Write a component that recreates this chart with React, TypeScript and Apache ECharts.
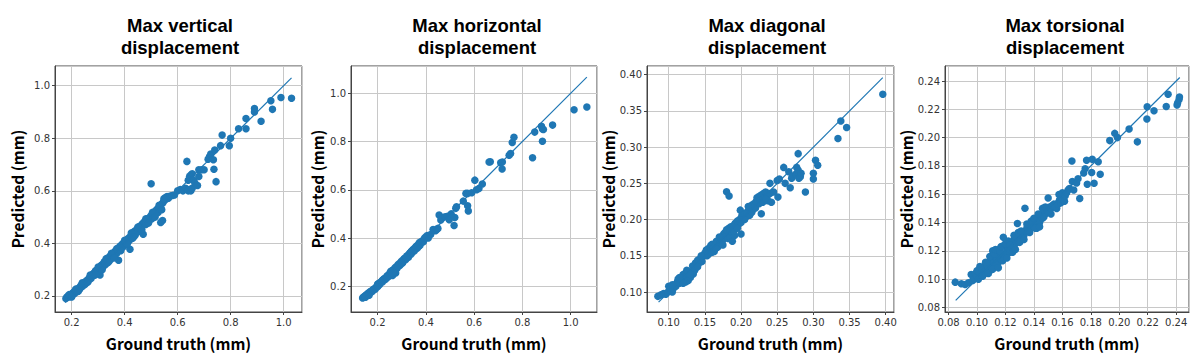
import React, { useEffect, useRef } from "react";
import * as echarts from "echarts";

const titleLine1 = ["Max vertical", "Max horizontal", "Max diagonal", "Max torsional"];
const titleLine2 = ["displacement", "displacement", "displacement", "displacement"];
const xAxisName = "Ground truth (mm)";
const yAxisName = "Predicted (mm)";

const verticalPoints = [
  [0.178,0.19],[0.182,0.196],[0.186,0.199],[0.19,0.196],[0.193,0.204],[0.197,0.206],[0.2,0.203],[0.204,0.21],[0.207,0.214],[0.21,0.208],
  [0.213,0.218],[0.217,0.221],[0.22,0.216],[0.223,0.226],[0.227,0.23],[0.23,0.226],[0.233,0.236],[0.236,0.242],[0.24,0.236],[0.243,0.247],
  [0.247,0.25],[0.25,0.244],[0.254,0.256],[0.258,0.26],[0.262,0.255],[0.266,0.268],[0.27,0.272],[0.273,0.266],[0.277,0.28],[0.28,0.284],
  [0.284,0.278],[0.287,0.29],[0.29,0.296],[0.293,0.286],[0.296,0.3],[0.3,0.292],[0.303,0.308],[0.306,0.302],[0.307,0.28],[0.31,0.314],
  [0.313,0.318],[0.316,0.306],[0.32,0.324],[0.323,0.33],[0.326,0.318],[0.33,0.334],[0.333,0.338],[0.336,0.326],[0.34,0.344],[0.343,0.35],
  [0.346,0.338],[0.35,0.354],[0.353,0.346],[0.356,0.36],[0.36,0.352],[0.363,0.368],[0.366,0.372],[0.37,0.362],[0.373,0.378],[0.377,0.336],
  [0.38,0.384],[0.383,0.39],[0.386,0.378],[0.39,0.395],[0.393,0.4],[0.396,0.388],[0.4,0.405],[0.403,0.41],[0.407,0.398],[0.41,0.414],
  [0.414,0.42],[0.417,0.41],[0.42,0.378],[0.423,0.428],[0.426,0.434],[0.43,0.42],[0.434,0.44],[0.437,0.446],[0.44,0.432],[0.444,0.45],
  [0.447,0.455],[0.45,0.444],[0.454,0.46],[0.457,0.465],[0.46,0.454],[0.464,0.47],[0.468,0.476],[0.47,0.435],[0.473,0.48],[0.477,0.485],
  [0.48,0.472],[0.484,0.49],[0.488,0.495],[0.492,0.484],[0.496,0.5],[0.5,0.506],[0.503,0.494],[0.507,0.512],[0.51,0.518],[0.514,0.506],
  [0.518,0.524],[0.522,0.53],[0.526,0.518],[0.53,0.537],[0.534,0.545],[0.538,0.53],[0.542,0.552],[0.546,0.558],[0.55,0.566],[0.553,0.574],
  [0.556,0.568],[0.56,0.578],[0.565,0.572],[0.572,0.58],[0.58,0.582],[0.588,0.584],[0.5,0.627],[0.543,0.487],[0.536,0.48],
  [0.19,0.205],[0.2,0.196],[0.215,0.226],[0.225,0.218],[0.24,0.25],[0.26,0.252],[0.27,0.28],[0.29,0.281],[0.3,0.31],[0.315,0.3],
  [0.33,0.342],[0.34,0.33],[0.35,0.362],[0.36,0.345],[0.37,0.38],[0.385,0.372],[0.4,0.412],[0.41,0.398],[0.425,0.44],[0.435,0.425],
  [0.45,0.462],[0.465,0.452],[0.48,0.494],[0.49,0.478],[0.505,0.518],[0.515,0.5],[0.53,0.545],[0.54,0.528],[0.548,0.57],
  [0.6,0.6],[0.61,0.605],[0.62,0.6],[0.63,0.61],[0.64,0.6],[0.645,0.605],[0.65,0.6],[0.655,0.61],[0.635,0.712],[0.64,0.64],
  [0.645,0.655],[0.65,0.66],[0.655,0.665],[0.66,0.64],[0.665,0.63],[0.675,0.62],[0.68,0.68],[0.69,0.68],[0.7,0.68],[0.68,0.655],
  [0.715,0.72],[0.72,0.73],[0.725,0.74],[0.735,0.718],[0.737,0.682],[0.745,0.635],[0.74,0.755],[0.762,0.772],[0.768,0.812],[0.795,0.772],
  [0.8,0.8],[0.83,0.836],[0.858,0.836],[0.858,0.875],[0.89,0.9],[0.89,0.913],[0.915,0.865],[0.952,0.943],[0.958,0.91],[0.99,0.955],[1.03,0.952]
];
const verticalLine = [[0.175,0.175],[1.03,1.03]];

const horizontalPoints = [
  [0.138,0.152],[0.142,0.156],[0.146,0.158],[0.15,0.162],[0.154,0.165],[0.158,0.168],[0.162,0.172],[0.166,0.17],[0.17,0.178],[0.174,0.18],
  [0.178,0.178],[0.182,0.186],[0.186,0.19],[0.19,0.188],[0.194,0.196],[0.198,0.2],[0.2,0.208],[0.204,0.212],[0.208,0.206],[0.212,0.216],
  [0.216,0.22],[0.22,0.218],[0.224,0.228],[0.228,0.232],[0.232,0.228],[0.236,0.238],[0.24,0.244],[0.244,0.24],[0.248,0.25],[0.252,0.256],
  [0.256,0.25],[0.26,0.264],[0.264,0.268],[0.262,0.245],[0.268,0.262],[0.272,0.276],[0.276,0.28],[0.28,0.274],[0.275,0.255],[0.284,0.288],
  [0.288,0.292],[0.292,0.286],[0.296,0.3],[0.3,0.305],[0.304,0.298],[0.308,0.312],[0.312,0.316],[0.316,0.31],[0.32,0.324],[0.324,0.328],
  [0.328,0.32],[0.332,0.336],[0.336,0.34],[0.34,0.334],[0.344,0.348],[0.348,0.354],[0.352,0.346],[0.356,0.36],[0.36,0.366],[0.364,0.358],
  [0.368,0.372],[0.372,0.378],[0.376,0.37],[0.38,0.384],[0.386,0.388],[0.392,0.394],[0.4,0.404],[0.405,0.41],[0.41,0.4],[0.44,0.43],
  [0.15,0.155],[0.165,0.163],[0.18,0.185],[0.2,0.198],[0.22,0.225],[0.24,0.236],[0.255,0.262],[0.265,0.255],[0.285,0.282],[0.3,0.295],
  [0.32,0.318],[0.34,0.345],[0.355,0.352],[0.37,0.365],[0.375,0.382],[0.39,0.385],[0.395,0.4],[0.42,0.415],[0.43,0.435],
  [0.445,0.435],[0.45,0.44],[0.455,0.495],[0.462,0.475],[0.47,0.485],[0.48,0.488],[0.49,0.49],[0.497,0.476],[0.505,0.5],[0.517,0.452],
  [0.52,0.485],[0.524,0.523],[0.527,0.53],[0.555,0.553],[0.566,0.585],[0.573,0.585],[0.573,0.534],[0.576,0.512],[0.59,0.588],[0.603,0.64],
  [0.61,0.6],[0.62,0.605],[0.634,0.624],[0.667,0.716],[0.662,0.715],[0.71,0.712],[0.717,0.715],[0.716,0.686],[0.745,0.743],[0.751,0.75],
  [0.758,0.796],[0.765,0.818],[0.842,0.733],[0.851,0.839],[0.879,0.863],[0.883,0.852],[0.887,0.85],[0.883,0.801],[0.925,0.868],[1.014,0.932],[1.067,0.943]
];
const horizontalLine = [[0.14,0.14],[1.067,1.067]];

const diagonalPoints = [
  [0.085,0.094],[0.089,0.096],[0.093,0.098],[0.096,0.097],[0.099,0.1],[0.1,0.108],[0.102,0.105],[0.105,0.1],[0.106,0.104],[0.108,0.11],
  [0.11,0.108],[0.112,0.114],[0.113,0.118],[0.115,0.112],[0.117,0.12],[0.118,0.116],[0.12,0.124],[0.121,0.118],[0.123,0.126],[0.124,0.114],
  [0.125,0.122],[0.127,0.116],[0.128,0.125],[0.13,0.12],[0.131,0.128],[0.133,0.136],[0.134,0.125],[0.136,0.13],[0.137,0.14],[0.139,0.138],
  [0.14,0.144],[0.142,0.14],[0.144,0.146],[0.146,0.142],[0.148,0.15],[0.15,0.154],[0.152,0.158],[0.153,0.15],[0.155,0.16],[0.156,0.155],
  [0.158,0.164],[0.159,0.158],[0.16,0.166],[0.162,0.16],[0.163,0.156],[0.165,0.165],[0.166,0.17],[0.168,0.162],[0.17,0.172],[0.171,0.168],
  [0.173,0.176],[0.174,0.17],[0.176,0.18],[0.177,0.175],[0.178,0.182],[0.18,0.178],[0.181,0.185],[0.182,0.174],[0.183,0.188],[0.184,0.18],
  [0.185,0.175],[0.186,0.19],[0.187,0.183],[0.188,0.17],[0.189,0.186],[0.19,0.192],[0.191,0.178],[0.192,0.195],[0.194,0.19],[0.195,0.198],
  [0.196,0.193],[0.198,0.2],[0.199,0.213],[0.2,0.18],[0.201,0.205],[0.203,0.2],[0.205,0.208],[0.207,0.204],[0.208,0.21],[0.21,0.212],
  [0.212,0.206],[0.213,0.216],[0.215,0.22],[0.216,0.214],[0.218,0.222],[0.219,0.218],[0.221,0.225],[0.222,0.23],[0.224,0.224],[0.225,0.232],
  [0.226,0.226],[0.228,0.208],[0.228,0.234],[0.23,0.228],[0.231,0.236],[0.233,0.23],[0.234,0.238],[0.236,0.232],[0.237,0.226],[0.238,0.236],
  [0.105,0.11],[0.115,0.12],[0.12,0.112],[0.125,0.13],[0.13,0.124],[0.14,0.135],[0.145,0.15],[0.155,0.152],[0.16,0.155],[0.165,0.16],
  [0.17,0.176],[0.175,0.165],[0.18,0.186],[0.185,0.185],[0.19,0.184],[0.195,0.188],[0.2,0.196],[0.205,0.2],[0.21,0.218],[0.215,0.21],
  [0.22,0.216],[0.225,0.222],[0.23,0.224],[0.235,0.228],
  [0.24,0.25],[0.24,0.236],[0.242,0.224],[0.245,0.238],[0.25,0.254],[0.251,0.231],[0.253,0.256],[0.18,0.2385],[0.1835,0.2327],
  [0.259,0.272],[0.261,0.25],[0.266,0.266],[0.268,0.244],[0.27,0.257],[0.271,0.26],[0.276,0.263],[0.277,0.272],[0.279,0.268],[0.279,0.291],
  [0.28,0.257],[0.282,0.259],[0.283,0.264],[0.289,0.238],[0.3,0.264],[0.3,0.256],[0.303,0.282],[0.306,0.275],[0.334,0.312],[0.338,0.336],
  [0.346,0.327],[0.396,0.373]
];
const diagonalLine = [[0.086,0.086],[0.396,0.396]];

const torsionalPoints = [
  [0.0847,0.0979],[0.089,0.0967],[0.0917,0.0962],[0.094,0.0975],[0.0959,0.1033],[0.097,0.099],[0.098,0.1005],[0.099,0.104],[0.1,0.102],[0.1005,0.106],
  [0.101,0.1],[0.102,0.105],[0.103,0.108],[0.1035,0.103],[0.104,0.106],[0.105,0.109],[0.1055,0.104],[0.106,0.107],[0.107,0.11],[0.1075,0.105],
  [0.108,0.108],[0.1085,0.112],[0.109,0.106],[0.11,0.11],[0.11,0.114],[0.1105,0.108],[0.111,0.12],[0.112,0.112],[0.1125,0.116],[0.113,0.11],
  [0.114,0.114],[0.1145,0.118],[0.115,0.112],[0.116,0.116],[0.1165,0.122],[0.117,0.114],[0.118,0.118],[0.119,0.124],[0.12,0.116],[0.121,0.12],
  [0.1185,0.1296],[0.122,0.122],[0.123,0.119],[0.124,0.126],[0.125,0.124],[0.126,0.128],[0.127,0.125],[0.128,0.13],[0.1284,0.1393],[0.129,0.127],
  [0.13,0.132],[0.131,0.128],[0.132,0.133],[0.133,0.131],[0.134,0.134],[0.1337,0.1501],[0.135,0.136],[0.136,0.134],[0.137,0.138],[0.138,0.136],
  [0.139,0.14],[0.14,0.137],[0.141,0.14],[0.142,0.136],[0.143,0.142],[0.144,0.14],[0.145,0.145],[0.146,0.143],[0.147,0.148],[0.148,0.146],
  [0.1,0.106],[0.102,0.109],[0.104,0.102],[0.106,0.112],[0.108,0.104],[0.109,0.116],[0.111,0.107],[0.112,0.118],[0.113,0.121],[0.115,0.108],
  [0.116,0.12],[0.117,0.123],[0.118,0.113],[0.12,0.125],[0.121,0.115],[0.122,0.127],[0.123,0.124],[0.125,0.119],[0.126,0.131],[0.127,0.121],
  [0.129,0.133],[0.13,0.126],[0.131,0.134],[0.133,0.128],[0.135,0.139],[0.137,0.133],[0.138,0.141],[0.14,0.143],[0.141,0.136],[0.143,0.146],
  [0.144,0.137],[0.146,0.15],[0.147,0.144],[0.148,0.151],[0.152,0.146],[0.154,0.153],[0.156,0.15],[0.158,0.156],[0.16,0.161],[0.161,0.158],
  [0.149,0.15],[0.15,0.148],[0.15,0.1574],[0.151,0.151],[0.152,0.15],[0.153,0.152],[0.155,0.151],[0.157,0.153],[0.1576,0.1598],[0.159,0.154],
  [0.16,0.156],[0.1615,0.155],[0.162,0.159],[0.163,0.161],[0.164,0.163],[0.165,0.164],[0.1667,0.1835],[0.167,0.169],[0.168,0.163],[0.17,0.168],
  [0.171,0.171],[0.1722,0.157],[0.175,0.175],[0.176,0.178],[0.177,0.184],[0.1775,0.167],[0.1806,0.1753],[0.181,0.1847],[0.1823,0.1678],[0.1852,0.183],
  [0.1866,0.1741],[0.1933,0.1979],[0.1968,0.203],[0.1987,0.2],[0.2069,0.2061],[0.2127,0.197],[0.2194,0.2131],[0.2196,0.2218],[0.2244,0.219],[0.233,0.222],
  [0.2343,0.2306],[0.2406,0.223],[0.241,0.2245],[0.242,0.227],[0.2423,0.2287]
];
const torsionalLine = [[0.085,0.085],[0.2425,0.2425]];

const pointSets = [verticalPoints, horizontalPoints, diagonalPoints, torsionalPoints];
const lineSets = [verticalLine, horizontalLine, diagonalLine, torsionalLine];
const xRanges = [[0.137, 1.0695], [0.09, 1.109], [0.07, 0.4115], [0.0775, 0.249]];
const yRanges = [[0.139, 1.075], [0.0935, 1.113], [0.0724, 0.412], [0.0768, 0.2506]];
const splitNumbers = [5, 5, 7, 8];
const decimals = [1, 1, 2, 2];

const gridBoxes = [
  { left: 55, width: 247 },
  { left: 351, width: 246 },
  { left: 647, width: 247 },
  { left: 945, width: 244 },
];
const titleCenters = [180, 477, 767, 1065];
const yNameGaps = [30, 26, 27, 28];

const BLUE = "#1f77b4";

export default function App() {
  const ref = useRef<HTMLDivElement>(null);
  useEffect(() => {
    if (!ref.current) return;
    const chart = echarts.init(ref.current, undefined, { renderer: "svg" });
    const tickLabel = {
      fontSize: 10,
      color: "#333",
      fontFamily: "DejaVu Sans",
    };
    const nameStyle = {
      fontFamily: "Noto Sans CJK KR",
      fontWeight: "bold",
      fontSize: 15.5,
      color: "#000",
    };
    const titleStyle = {
      fontFamily: "Liberation Sans",
      fontWeight: "bold",
      fontSize: 18.5,
      lineHeight: 21,
      color: "#000",
    };
    const option: any = {
      animation: false,
      backgroundColor: "#fff",
      title: [
        ...titleLine1.map((t, i) => ({
          text: t,
          left: titleCenters[i],
          top: 14.5,
          padding: 0,
          textAlign: "center",
          textStyle: titleStyle,
        })),
        ...titleLine2.map((t, i) => ({
          text: t,
          left: titleCenters[i],
          top: 36.5,
          padding: 0,
          textAlign: "center",
          textStyle: titleStyle,
        })),
      ],
      grid: gridBoxes.map((g) => ({
        left: g.left,
        width: g.width,
        top: 66,
        height: 246,
        show: true,
        borderColor: "#444",
        borderWidth: 1,
        backgroundColor: "#fff",
      })),
      xAxis: gridBoxes.map((g, i) => ({
        type: "value",
        gridIndex: i,
        min: xRanges[i][0],
        max: xRanges[i][1],
        splitNumber: splitNumbers[i],
        name: xAxisName,
        nameLocation: "middle",
        nameGap: 23,
        nameTextStyle: nameStyle,
        axisLine: { show: true, onZero: false, lineStyle: { color: "#444", width: 1 } },
        axisTick: { show: true, length: 3, lineStyle: { color: "#444" } },
        axisLabel: {
          ...tickLabel,
          margin: 5,
          showMinLabel: false,
          showMaxLabel: false,
          formatter: (v: number) => v.toFixed(decimals[i]),
        },
        splitLine: { show: true, lineStyle: { color: "#c8c8c8", width: 1 } },
      })),
      yAxis: gridBoxes.map((g, i) => ({
        type: "value",
        gridIndex: i,
        min: yRanges[i][0],
        max: yRanges[i][1],
        splitNumber: splitNumbers[i],
        name: yAxisName,
        nameLocation: "middle",
        nameGap: yNameGaps[i],
        nameTextStyle: nameStyle,
        axisLine: { show: true, onZero: false, lineStyle: { color: "#444", width: 1 } },
        axisTick: { show: true, length: 3, lineStyle: { color: "#444" } },
        axisLabel: {
          ...tickLabel,
          margin: 5,
          showMinLabel: false,
          showMaxLabel: false,
          formatter: (v: number) => v.toFixed(decimals[i]),
        },
        splitLine: { show: true, lineStyle: { color: "#c8c8c8", width: 1 } },
      })),
      series: [
        ...pointSets.map((pts, i) => ({
          type: "scatter",
          xAxisIndex: i,
          yAxisIndex: i,
          data: pts,
          symbol: "circle",
          symbolSize: 7.5,
          itemStyle: { color: BLUE, opacity: 1 },
          z: 2,
        })),
        ...lineSets.map((ln, i) => ({
          type: "line",
          xAxisIndex: i,
          yAxisIndex: i,
          data: ln,
          showSymbol: false,
          symbol: "none",
          lineStyle: { color: BLUE, width: 1.2 },
          z: 3,
        })),
      ],
    };
    chart.setOption(option);
    return () => chart.dispose();
  }, []);
  return (
    <div
      ref={ref}
      style={{ position: "absolute", left: 0, top: 0, width: 1196, height: 363 }}
    />
  );
}
